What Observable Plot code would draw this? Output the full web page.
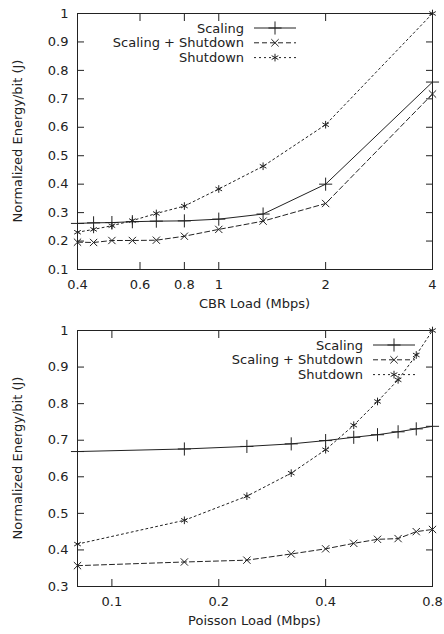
<!DOCTYPE html>
<html><head><meta charset="utf-8">
<script src="https://cdn.jsdelivr.net/npm/d3@7"></script>
<script src="https://cdn.jsdelivr.net/npm/@observablehq/plot@0.6"></script>
<style>
body{margin:0;background:#fff;}
#c svg{display:block;}
</style>
</head><body><div id="c"></div>
<script>
const seriesNames = ["Scaling", "Scaling + Shutdown", "Shutdown"];
const seriesDash = ["none", "5,3", "2,3"];
const seriesSymbol = ["plus", "times", "asterisk"];
const seriesR = [4.3, 3.4, 3.6];

// Top panel: CBR load
const cbrLoad = [0.4, 0.444, 0.5, 0.571, 0.667, 0.8, 1, 1.333, 2, 4];
const cbrScaling = [0.262, 0.264, 0.265, 0.268, 0.270, 0.271, 0.277, 0.295, 0.400, 0.759];
const cbrScalingShutdown = [0.196, 0.195, 0.202, 0.202, 0.203, 0.217, 0.241, 0.270, 0.332, 0.717];
const cbrShutdown = [0.231, 0.241, 0.254, 0.272, 0.297, 0.323, 0.383, 0.463, 0.609, 1.0];
const cbrXTicks = [0.4, 0.6, 0.8, 1, 2, 4];
const cbrYTicks = [0.1, 0.2, 0.3, 0.4, 0.5, 0.6, 0.7, 0.8, 0.9, 1];

// Bottom panel: Poisson load
const poissonLoad = [0.08, 0.16, 0.24, 0.32, 0.4, 0.48, 0.56, 0.64, 0.72, 0.8];
const poissonScaling = [0.669, 0.676, 0.683, 0.690, 0.699, 0.708, 0.715, 0.723, 0.731, 0.738];
const poissonScalingShutdown = [0.357, 0.367, 0.372, 0.389, 0.403, 0.418, 0.429, 0.431, 0.450, 0.456];
const poissonShutdown = [0.416, 0.481, 0.547, 0.610, 0.674, 0.741, 0.806, 0.865, 0.933, 1.0];
const poissonXTicks = [0.1, 0.2, 0.4, 0.8];
const poissonYTicks = [0.3, 0.4, 0.5, 0.6, 0.7, 0.8, 0.9, 1];

const FONT = "DejaVu Sans, sans-serif";
const FS = 13;
const INK = "#222";

function toRows(xs, ys) {
  const rows = [];
  ys.forEach((arr, s) => arr.forEach((v, i) => rows.push({x: xs[i], y: v, s: seriesNames[s]})));
  return rows;
}

function panel({rows, xDomain, yDomain, xTicks, yTicks, xBase, xLabel, legendRight}) {
  const marks = [Plot.frame({stroke: INK, strokeWidth: 1})];
  seriesNames.forEach((name, i) => {
    const d = rows.filter(r => r.s === name);
    marks.push(Plot.line(d, {x: "x", y: "y", stroke: INK, strokeWidth: 1, strokeDasharray: seriesDash[i]}));
    marks.push(Plot.dot(d, {x: "x", y: "y", symbol: seriesSymbol[i], r: seriesR[i], stroke: INK, strokeWidth: 1}));
  });
  const yFmt = d => d === 1 ? "1" : d3.format(".1f")(d);
  marks.push(
    Plot.axisX({ticks: xTicks, anchor: "bottom", tickSize: -7, text: null, label: null, stroke: INK}),
    Plot.axisX({ticks: xTicks, anchor: "top", tickSize: -7, text: null, label: null, stroke: INK}),
    Plot.axisX({ticks: xTicks, anchor: "bottom", tickSize: 0, tickPadding: 10, tickFormat: d => String(d), label: null, fontSize: FS, fill: INK}),
    Plot.axisY({ticks: yTicks, anchor: "left", tickSize: -7, text: null, label: null, stroke: INK}),
    Plot.axisY({ticks: yTicks, anchor: "right", tickSize: -7, text: null, label: null, stroke: INK}),
    Plot.axisY({ticks: yTicks, anchor: "left", tickSize: 0, tickPadding: 9, tickFormat: yFmt, label: null, fontSize: FS, fill: INK})
  );
  const svg = Plot.plot({
    width: 444, height: 317,
    marginLeft: 77, marginRight: 12, marginTop: 13, marginBottom: 48,
    style: {fontFamily: FONT, fontSize: FS + "px", color: INK, background: "#fff"},
    x: {type: "log", base: xBase, domain: xDomain},
    y: {domain: yDomain},
    marks
  });
  const s = d3.select(svg);
  s.append("text").attr("x", (77 + 432) / 2).attr("y", 308).attr("text-anchor", "middle")
    .attr("font-family", FONT).attr("font-size", FS).attr("fill", INK).text(xLabel);
  s.append("text").attr("transform", `translate(18,${(13 + 269) / 2}) rotate(-90)`).attr("text-anchor", "middle")
    .attr("dominant-baseline", "middle")
    .attr("font-family", FONT).attr("font-size", FS).attr("fill", INK).text("Normalized Energy/bit (J)");
  const symGen = [d3.symbolPlus, d3.symbolTimes, d3.symbolAsterisk];
  seriesNames.forEach((name, i) => {
    const y = 28 + i * 14.8;
    s.append("text").attr("x", legendRight).attr("y", y).attr("text-anchor", "end").attr("dy", "0.35em")
      .attr("font-family", FONT).attr("font-size", FS).attr("fill", INK).text(name);
    s.append("line").attr("x1", legendRight + 10).attr("x2", legendRight + 52).attr("y1", y).attr("y2", y)
      .attr("stroke", INK).attr("stroke-width", 1).attr("stroke-dasharray", seriesDash[i]);
    s.append("path").attr("transform", `translate(${legendRight + 31},${y})`)
      .attr("d", d3.symbol(symGen[i], seriesR[i] * seriesR[i] * Math.PI)())
      .attr("fill", "none").attr("stroke", INK).attr("stroke-width", 1);
  });
  return svg;
}

const c = document.getElementById("c");
c.appendChild(panel({
  rows: toRows(cbrLoad, [cbrScaling, cbrScalingShutdown, cbrShutdown]),
  xDomain: [0.4, 4], yDomain: [0.1, 1], xTicks: cbrXTicks, yTicks: cbrYTicks,
  xBase: 10, xLabel: "CBR Load (Mbps)", legendRight: 244
}));
c.appendChild(panel({
  rows: toRows(poissonLoad, [poissonScaling, poissonScalingShutdown, poissonShutdown]),
  xDomain: [0.08, 0.8], yDomain: [0.3, 1], xTicks: poissonXTicks, yTicks: poissonYTicks,
  xBase: 2, xLabel: "Poisson Load (Mbps)", legendRight: 363
}));
</script>
</body></html>
